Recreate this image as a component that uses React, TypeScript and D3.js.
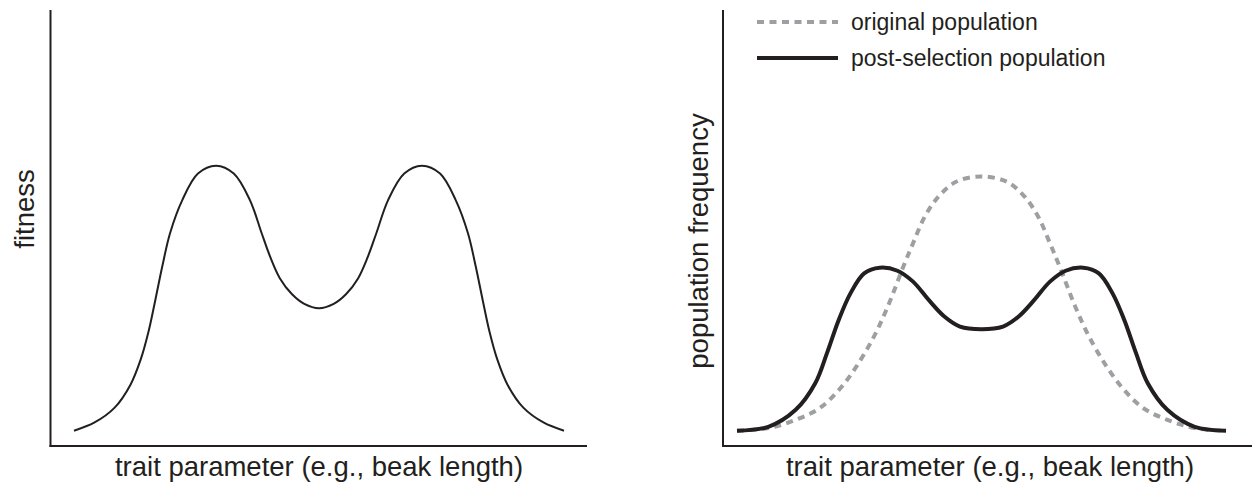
import * as d3 from "d3";

const fitnessTrait = [0, 4.2, 8.3, 11.5, 13.6, 15.2, 16.6, 18.0, 19.6, 22.1, 25.3, 29.0, 32.6, 35.9, 38.3, 40.0, 42.0, 44.5, 47.0, 50.0, 53.0, 55.5, 58.0, 60.0, 61.7, 64.1, 67.4, 71.0, 74.7, 77.9, 80.4, 82.0, 83.4, 84.8, 86.4, 88.5, 91.7, 95.8, 100];
const fitnessValue = [3.5, 5.4, 8.8, 14.0, 19.8, 26.2, 33.5, 41.1, 48.8, 56.4, 62.5, 64.3, 62.5, 56.4, 48.8, 43.5, 38.5, 34.8, 32.6, 31.6, 32.6, 34.8, 38.5, 43.5, 48.8, 56.4, 62.5, 64.3, 62.5, 56.4, 48.8, 41.1, 33.5, 26.2, 19.8, 14.0, 8.8, 5.4, 3.5];

const originalTrait = [0, 6.4, 12, 16.8, 20.8, 24.4, 28, 30.8, 34, 36, 38.4, 41.2, 44.8, 50, 55.2, 58.8, 61.6, 64, 66, 69.2, 72, 75.6, 79.2, 83.2, 88, 93.6, 100];
const originalFreq = [3.5, 4.1, 6.0, 8.6, 12.8, 18.2, 25.1, 31.9, 41.1, 46.5, 52.6, 57.2, 60.6, 61.8, 60.6, 57.2, 52.6, 46.5, 41.1, 31.9, 25.1, 18.2, 12.8, 8.6, 6.0, 4.1, 3.5];

const postTrait = [0, 6.4, 12, 16, 18.4, 20.8, 23.2, 26, 29.2, 32.8, 36, 39.2, 42.4, 45.6, 50, 54.4, 57.6, 60.8, 64, 67.2, 70.8, 74, 76.8, 79.2, 81.6, 84, 88, 93.6, 100];
const postFreq = [3.5, 4.4, 8.3, 14.4, 21.3, 28.9, 35.0, 39.6, 40.9, 40.2, 37.7, 33.5, 29.7, 27.4, 26.8, 27.4, 29.7, 33.5, 37.7, 40.2, 40.9, 39.6, 35.0, 28.9, 21.3, 14.4, 8.3, 4.4, 3.5];

const legendLabels = ["original population", "post-selection population"];
const xLabel = "trait parameter (e.g., beak length)";

const W = 1252;
const H = 485;
const ink = "#231f20";
const grey = "#9d9fa2";
const font = "'Liberation Sans', Arial, Helvetica, sans-serif";

const y = d3.scaleLinear().domain([0, 100]).range([446, 10]);
const xLeft = d3.scaleLinear().domain([0, 100]).range([74, 564]);
const xRight = d3.scaleLinear().domain([0, 100]).range([737, 1226]);

function makeLine(xs: number[], ys: number[], x: d3.ScaleLinear<number, number>) {
  const pts: [number, number][] = xs.map((t, i) => [x(t), y(ys[i])]);
  return d3.line().curve(d3.curveCatmullRom.alpha(0.5))(pts) || "";
}

export default function App() {
  const axisBottom = y(0);
  return (
    <svg width={W} height={H} style={{ position: "absolute", left: 0, top: 0, background: "#fff" }}>
      {/* left panel */}
      <line x1={50.5} y1={10} x2={50.5} y2={axisBottom + 1} stroke={ink} strokeWidth={2} />
      <line x1={49.5} y1={axisBottom} x2={587} y2={axisBottom} stroke={ink} strokeWidth={2} />
      <path d={makeLine(fitnessTrait, fitnessValue, xLeft)} fill="none" stroke={ink} strokeWidth={2} />
      <text x={34} y={209} transform="rotate(-90 34 209)" textAnchor="middle" fontFamily={font} fontSize={27.5} fill={ink}>
        fitness
      </text>
      <text x={319} y={476} textAnchor="middle" fontFamily={font} fontSize={27.5} fill={ink}>
        {xLabel}
      </text>

      {/* right panel */}
      <line x1={723} y1={10} x2={723} y2={axisBottom + 1} stroke={ink} strokeWidth={2} />
      <line x1={722} y1={axisBottom} x2={1252} y2={axisBottom} stroke={ink} strokeWidth={2} />
      <path d={makeLine(originalTrait, originalFreq, xRight)} fill="none" stroke={grey} strokeWidth={4} strokeDasharray="7 5.5" />
      <path d={makeLine(postTrait, postFreq, xRight)} fill="none" stroke={ink} strokeWidth={4} />
      <text x={708} y={241} transform="rotate(-90 708 241)" textAnchor="middle" fontFamily={font} fontSize={27.5} fill={ink}>
        population frequency
      </text>
      <text x={990} y={476} textAnchor="middle" fontFamily={font} fontSize={27.5} fill={ink}>
        {xLabel}
      </text>

      {/* legend */}
      <line x1={757} y1={22} x2={838} y2={22} stroke={grey} strokeWidth={4} strokeDasharray="7 5.5" />
      <text x={851} y={30} fontFamily={font} fontSize={23} fill={ink}>
        {legendLabels[0]}
      </text>
      <line x1={757} y1={58} x2={838} y2={58} stroke={ink} strokeWidth={4} />
      <text x={851} y={66} fontFamily={font} fontSize={23} fill={ink}>
        {legendLabels[1]}
      </text>
    </svg>
  );
}
